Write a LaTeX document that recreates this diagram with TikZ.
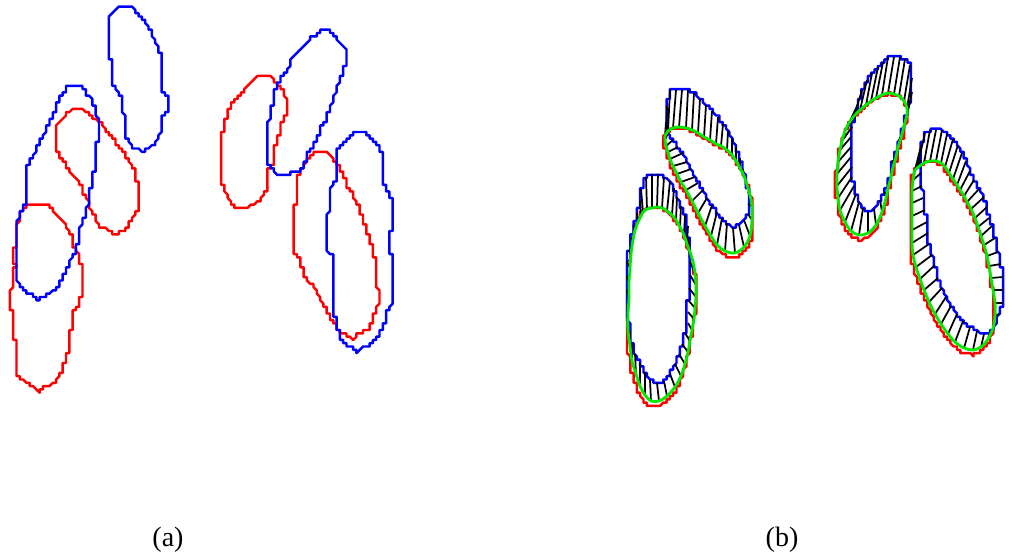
\documentclass[tikz,border=0pt]{standalone}
\usepackage{fontspec}
\setmainfont{Liberation Serif}
\definecolor{cred}{RGB}{255,0,0}
\definecolor{cblue}{RGB}{0,0,255}
\definecolor{cgreen}{RGB}{0,235,0}
\tikzset{
  redline/.style={draw=cred, line width=1.85pt, line join=round},
  blueline/.style={draw=cblue, line width=1.85pt, line join=round},
  greenline/.style={draw=cgreen, line width=2.1pt, line join=round},
  corrline/.style={draw=black, line width=1.3pt},
  caption/.style={font=\fontsize{21}{25}\selectfont, inner sep=0pt}
}
\makeatletter
% pixel grid used for the staircase look of traced contours
\newcommand\jgstep{3.3}
\newcommand\hatchsub{1}
\newcommand\jg@push{\xdef\jg@path{\jg@path -- (\jg@rx,\jg@ry)}\xdef\jg@lrx{\jg@rx}\xdef\jg@lry{\jg@ry}}
\newcommand\jg@add[2]{%
  \pgfmathsetmacro\jg@rx{round((#1)/\jgstep)*\jgstep}%
  \pgfmathsetmacro\jg@ry{round((#2)/\jgstep)*\jgstep}%
  \ifdim\jg@rx pt=\jg@lrx pt \ifdim\jg@ry pt=\jg@lry pt \else\jg@push\fi\else\jg@push\fi}
\newcommand\jg@seg[4]{%
  \pgfmathtruncatemacro\jg@n{max(1,ceil(veclen((#3)-(#1),(#4)-(#2))/1.2))}%
  \foreach \jg@k in {1,...,\jg@n}{%
    \jg@add{#1+((#3)-(#1))*\jg@k/\jg@n}{#2+((#4)-(#2))*\jg@k/\jg@n}}}
% closed contour snapped to the pixel grid; list x/y with first point repeated last
\newcommand\jagdraw[2]{%
  \gdef\jg@path{}%
  \foreach \jx/\jy [count=\ji, remember=\jx as \jpx (initially 0), remember=\jy as \jpy (initially 0)] in {#2}{%
    \ifnum\ji=1
      \pgfmathsetmacro\jg@rx{round((\jx)/\jgstep)*\jgstep}%
      \pgfmathsetmacro\jg@ry{round((\jy)/\jgstep)*\jgstep}%
      \xdef\jg@lrx{\jg@rx}\xdef\jg@lry{\jg@ry}%
      \xdef\jg@sx{\jg@rx}\xdef\jg@sy{\jg@ry}%
    \else
      \jg@seg{\jpx}{\jpy}{\jx}{\jy}%
    \fi}%
  \edef\jg@cmd{\noexpand\draw[#1] (\jg@sx,\jg@sy) \jg@path -- cycle;}%
  \jg@cmd}
% correspondence segments between blue and green points
\newcommand\hatchlines[1]{%
  \foreach \hbx/\hby/\hgx/\hgy [count=\hi, remember=\hbx as \hpbx (initially 0), remember=\hby as \hpby (initially 0), remember=\hgx as \hpgx (initially 0), remember=\hgy as \hpgy (initially 0)] in {#1}{%
    \ifnum\hi>1
      \foreach \hk in {1,...,\hatchsub}{%
        \draw[corrline] ({\hpbx+(\hbx-\hpbx)*\hk/\hatchsub},{\hpby+(\hby-\hpby)*\hk/\hatchsub}) -- ({\hpgx+(\hgx-\hpgx)*\hk/\hatchsub},{\hpgy+(\hgy-\hpgy)*\hk/\hatchsub});}%
    \fi}}
% registered object: centre x, centre y, red scale, red dx, red dy, list bx/by/gx/gy
\newcommand\bobj[6]{%
  \gdef\bo@b{}\gdef\bo@r{}\gdef\bo@g{}%
  \foreach \qa/\qb/\qc/\qd [count=\qi] in {#6}{%
    \pgfmathsetmacro\bo@rx{#1+#3*(\qc-(#1))+(#4)}%
    \pgfmathsetmacro\bo@ry{#2+#3*(\qd-(#2))+(#5)}%
    \ifnum\qi=1
      \xdef\bo@b{\qa/\qb}\xdef\bo@r{\bo@rx/\bo@ry}%
    \else
      \xdef\bo@b{\bo@b,\qa/\qb}\xdef\bo@r{\bo@r,\bo@rx/\bo@ry}%
      \xdef\bo@g{\bo@g(\qc,\qd)}%
    \fi}%
  \edef\bo@cmd{\noexpand\jagdraw{redline}{\bo@r}\noexpand\jagdraw{blueline}{\bo@b}%
    \noexpand\hatchlines{#6}%
    \noexpand\draw[greenline] plot[smooth cycle, tension=0.55] coordinates {\bo@g};}%
  \bo@cmd}
\makeatother

\begin{document}
\begin{tikzpicture}[x=0.75pt, y=-0.75pt]
\useasboundingbox (0,0) rectangle (1014,560);

% ---------------- (a) ----------------
\jagdraw{redline}{72/109,82/109,85/112,88/113,100/122,127/157,128/162,132/165,135/170,135/177,137/182,138/193,138/210,135/212,133/218,127/227,123/230,118/232,115/235,110/232,105/228,100/227,97/222,95/217,92/212,90/208,88/203,87/197,83/193,82/187,78/180,75/177,70/172,67/167,65/162,60/158,58/152,55/148,55/128,58/123,68/113,72/109}
\jagdraw{redline}{30/205,48/205,63/222,67/225,68/232,72/235,72/245,78/253,82/267,82/297,78/298,78/307,75/310,72/313,72/330,69/332,70/350,67/352,66/360,63/363,62/372,59/373,57/380,52/383,48/387,45/387,39/392,35/388,32/387,28/383,23/380,18/375,18/347,15/343,14/313,11/310,12/270,15/267,14/250,17/245,18/223,20/213,25/208,30/205}
\jagdraw{redline}{258/75,268/75,273/78,278/85,283/90,285/97,288/100,288/108,287/112,285/118,283/122,280/125,280/133,277/138,275/147,273/150,273/158,272/167,268/168,268/185,267/190,264/193,262/197,260/202,255/203,252/205,247/208,240/208,235/207,230/202,228/195,225/192,223/185,220/180,220/137,223/132,223/123,225/122,228/112,230/107,232/103,258/75}
\jagdraw{redline}{313/153,328/153,333/158,335/162,340/167,343/173,345/178,347/182,348/187,352/192,353/197,355/200,358/205,360/210,362/217,363/220,365/227,367/230,368/235,370/240,372/248,373/252,375/260,377/270,377/287,380/293,380/302,378/305,377/310,375/313,373/320,372/322,370/328,367/330,363/332,360/333,357/335,353/340,350/337,347/335,342/333,338/330,335/325,332/320,330/315,327/312,325/307,322/302,320/297,317/293,315/288,312/285,308/282,305/277,303/273,302/268,300/263,298/257,295/253,293/247,293/207,297/203,298/200,298/177,300/172,303/167,307/160,313/153}
\jagdraw{blueline}{120/5,131/5,146/24,149/27,152/35,156/42,159/50,163/58,163/91,168/97,168/112,163/117,163/129,158/137,155/145,150/147,145/150,143/153,138/148,133/147,127/139,127/133,124/127,124/114,122/112,122/98,118/93,116/88,113/85,113/63,108/57,108/18,120/5}
\jagdraw{blueline}{67/87,82/87,88/95,92/98,93/105,97/110,97/117,100/123,100/138,97/142,97/170,93/173,93/187,90/190,88/203,85/215,82/225,78/228,78/242,75/252,72/257,70/262,68/268,65/272,63/278,60/280,58/287,52/292,47/295,43/297,38/300,32/295,27/293,20/287,18/282,18/220,22/210,25/203,25/170,30/162,32/158,35/153,37/147,40/143,42/137,45/133,47/127,50/123,52/117,55/113,57/103,60/98,65/92,67/87}
\jagdraw{blueline}{320/31,330/31,348/52,347/55,345/58,345/65,343/68,343/73,340/77,339/83,337/85,337/90,335/93,334/100,332/102,330/108,328/112,327/115,325/122,322/125,320/132,318/137,317/140,315/143,312/147,310/150,308/153,307/158,305/163,302/167,300/170,295/172,292/173,287/175,278/175,273/170,268/163,268/122,272/118,272/105,275/102,275/90,278/87,280/78,287/72,290/65,290/60,295/55,300/50,305/45,310/40,312/37,317/35,320/31}
\jagdraw{blueline}{355/131,363/131,368/135,373/141,378/146,380/150,382/153,383/157,383/183,387/187,388/192,390/195,392/200,392/208,393/213,393/227,392/230,391/232,391/255,393/258,393/268,392/272,391/307,388/310,387/313,387/320,383/323,382/328,380/333,378/337,375/340,372/342,368/345,365/347,362/348,358/352,355/350,352/348,348/347,345/343,342/340,340/337,338/330,337/323,335/317,334/310,333/307,332/303,332/255,328/252,327/248,327/215,330/210,330/188,333/185,335/182,335/153,340/147,345/142,350/137,355/131}

% ---------------- (b) ----------------
\bobj{709}{190}{1.03}{0}{3}{670/90/668/131,676/90/673/128,682/90/679/127,688/90/686/128,694/93/692/130,700/99/698/133,706/105/704/137,712/111/710/140,718/117/716/144,723/124/721/146,728/131/727/150,732/138/732/155,736/147/736/161,740/158/740/168,743/169/744/176,746/180/747/185,748/192/750/195,748/204/752/206,748/214/752/220,744/220/750/236,739/225/744/247,733/228/735/253,727/223/725/251,722/218/717/245,717/212/711/236,712/205/705/226,707/198/698/213,703/190/692/201,698/183/686/190,695/177/681/182,691/169/677/174,687/162/673/166,683/153/670/159,678/147/668/152,673/140/666/146,668/133/665/140,666/122/665/136,667/106/666/134,670/90/668/131}
\bobj{662}{305}{1.03}{-1}{3}{646/177/647/209,652/174/652/208,658/174/657/207,664/177/662/208,670/181/667/211,674/188/672/215,677/197/676/220,681/206/680/227,685/215/684/235,688/226/687/244,688/238/690/252,689/250/693/262,690/262/695/273,690/275/696/285,689/288/696/297,688/300/695/308,688/312/694/319,688/323/692/330,685/333/690/341,682/344/688/352,679/354/685/364,675/364/681/376,670/374/675/387,664/381/667/396,657/383/659/401,650/380/651/401,645/372/645/395,640/363/640/386,635/354/636/374,632/343/632/361,630/331/630/346,628/318/628/330,628/305/628/314,627/290/629/298,627/276/629/283,627/262/630/268,629/250/631/254,631/238/633/240,634/226/635/230,637/213/638/222,640/201/641/216,641/189/643/212,646/177/647/209}
\bobj{872}{165}{1.03}{0}{3}{883/62/876/98,888/57/882/95,894/57/888/93,900/57/894/94,905/59/899/96,910/65/904/101,912/78/907/108,912/92/907/115,909/105/905/122,906/116/903/130,903/127/901/138,900/137/898/147,897/148/896/157,893/160/893/167,891/172/891/177,888/183/888/188,885/192/886/198,880/200/882/212,874/209/876/225,868/212/868/233,863/208/859/235,859/202/851/231,856/194/845/222,854/186/840/210,852/177/838/198,852/167/837/186,851/157/837/174,851/147/838/162,851/137/840/150,852/127/842/141,855/117/845/131,858/104/849/123,862/90/854/116,867/80/860/110,872/73/866/105,878/67/871/101,883/62/876/98}
\bobj{955}{255}{1.02}{-1}{3}{925/133/917/168,930/130/924/163,936/130/930/161,942/130/936/161,947/134/941/163,953/139/945/167,958/145/949/173,962/153/953/179,966/161/957/185,970/171/960/190,974/180/964/196,979/189/967/202,984/197/971/209,987/207/975/218,989/218/978/227,992/226/981/236,995/238/984/245,998/252/987/256,1001/264/989/266,1003/277/991/278,1003/290/993/290,1003/303/995/303,999/314/995/316,995/325/993/328,990/332/988/339,984/334/981/347,977/331/973/350,970/327/964/348,963/321/955/342,957/314/948/334,951/306/941/324,946/297/935/314,942/288/929/302,938/278/924/290,935/265/920/279,932/255/916/267,929/244/913/255,928/233/912/243,927/222/912/230,925/210/912/216,923/198/912/203,922/186/912/191,921/173/913/180,921/160/914/173,921/146/915/170,925/133/917/168}

% captions
\node[caption] (capa) at (168,540) {(a)};
\node[caption] (capb) at (782,540) {(b)};
\end{tikzpicture}
\end{document}
